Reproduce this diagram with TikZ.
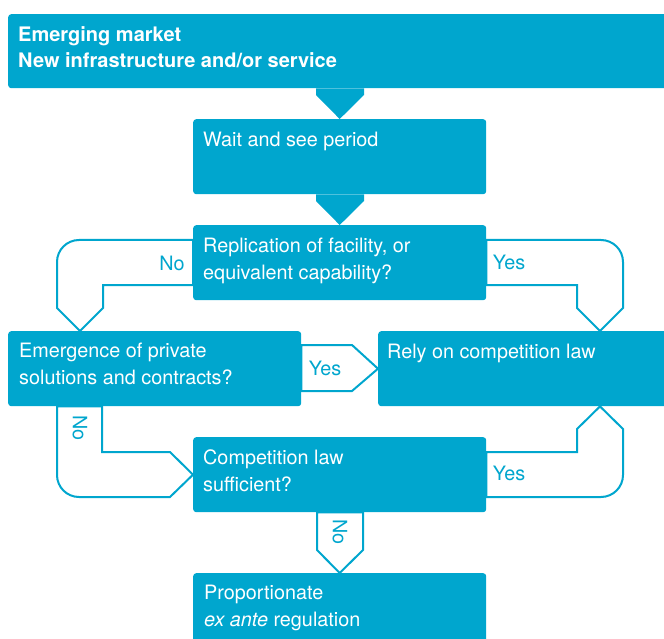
\documentclass[tikz,border=0pt]{standalone}
\usepackage{fontspec}
\setmainfont{TeX Gyre Heros}
\usetikzlibrary{calc,backgrounds}
\definecolor{flowblue}{HTML}{00A6CE}
% two lines of text, baseline on the first line
\newcommand\twolines[2]{\begin{tabular}[t]{@{}l@{}}#1\\#2\end{tabular}}
\begin{document}
\begin{tikzpicture}[x=1pt,y=-1pt,
  box/.style={fill=flowblue, rounded corners=3pt, inner sep=0pt, anchor=north west},
  boxtext/.style={text=white, font=\fontsize{19.8}{27}\selectfont, anchor=base west, inner sep=0pt},
  titletext/.style={text=white, font=\fontsize{20}{26}\selectfont\bfseries, anchor=base west, inner sep=0pt},
  hollow/.style={draw=flowblue, fill=white, line width=2pt, line join=miter},
  lbl/.style={text=flowblue, font=\fontsize{19.8}{24}\selectfont, inner sep=0pt}]
\useasboundingbox (0,0) rectangle (664,639);

% boxes
\node[box, minimum width=662pt, minimum height=74pt] (top) at (8,14) {};
\node[box, minimum width=293pt, minimum height=75pt] (wait) at (193,119) {};
\node[box, minimum width=293pt, minimum height=75pt] (repl) at (193,225) {};
\node[box, minimum width=293pt, minimum height=75pt] (emerg) at (8,331) {};
\node[box, minimum width=292pt, minimum height=75pt] (rely) at (378,331) {};
\node[box, minimum width=293pt, minimum height=75pt] (suff) at (193,437) {};
\node[box, minimum width=293pt, minimum height=75pt] (prop) at (193,573) {};

% box texts
\node[titletext] (toptxt) at ($(top.north west)+(10,28)$)
  {\twolines{Emerging market}{New infrastructure and/or service}};
\node[boxtext] (waittxt) at ($(wait.north west)+(10,28)$) {Wait and see period};
\node[boxtext] (repltxt) at ($(repl.north west)+(10,27)$)
  {\twolines{Replication of facility, or}{equivalent capability?}};
\node[boxtext] (emergtxt) at ($(emerg.north west)+(11,26)$)
  {\twolines{Emergence of private}{solutions and contracts?}};
\node[boxtext] (relytxt) at ($(rely.north west)+(9,27)$) {Rely on competition law};
\node[boxtext] (sufftxt) at ($(suff.north west)+(10,27)$)
  {\twolines{Competition law}{sufficient?}};
\node[boxtext] (proptxt) at ($(prop.north west)+(11,26)$)
  {\twolines{Proportionate}{\textit{ex ante} regulation}};

% connectors behind the boxes
\begin{scope}[on background layer]
  % solid arrows
  \fill[flowblue] (top.south -| 316,0) -- (316,95) -- (wait.north) -- (364,95) -- (top.south -| 364,0) -- cycle;
  \fill[flowblue] (wait.south -| 316,0) -- (316,201) -- (repl.north) -- (364,201) -- (wait.south -| 364,0) -- cycle;
  % replication -> private solutions (No)
  \draw[hollow] (repl.west |- 0,240) [rounded corners=22pt] -- (57,240) [sharp corners]
    -- (57,308) -- (emerg.north -| 80,0) -- (103,308) -- (103,285) -- (repl.west |- 0,285) -- cycle;
  % replication -> competition law (Yes)
  \draw[hollow] (repl.east |- 0,240) [rounded corners=22pt] -- (623,240) [sharp corners]
    -- (623,308) -- (rely.north -| 600,0) -- (577,308) -- (577,285) -- (repl.east |- 0,285) -- cycle;
  % private solutions -> competition law (Yes)
  \draw[hollow] (emerg.east |- 0,345) -- (352,345) -- (rely.west) -- (352,391) -- (emerg.east |- 0,391) -- cycle;
  % private solutions -> sufficient? (No)
  \draw[hollow] (emerg.south -| 57,0) [rounded corners=22pt] -- (57,497) [sharp corners]
    -- (170,497) -- (suff.west) -- (170,452) -- (102,452) -- (emerg.south -| 102,0) -- cycle;
  % sufficient? -> competition law (Yes)
  \draw[hollow] (suff.east |- 0,452) -- (577,452) -- (577,429) -- (rely.south -| 600,0)
    -- (623,429) [rounded corners=22pt] -- (623,497) [sharp corners] -- (suff.east |- 0,497) -- cycle;
  % sufficient? -> regulation (No)
  \draw[hollow] (suff.south -| 317,0) -- (317,550) -- (prop.north) -- (363,550) -- (suff.south -| 363,0) -- cycle;
\end{scope}

% connector labels
\node[lbl] (lno1) at (172,263) {No};
\node[lbl] (lyes1) at (509,262) {Yes};
\node[lbl] (lyes2) at (325,368) {Yes};
\node[lbl, rotate=-90] (lno2) at (80,428) {No};
\node[lbl] (lyes3) at (509,473) {Yes};
\node[lbl, rotate=-90] (lno3) at (340,532) {No};
\end{tikzpicture}
\end{document}
